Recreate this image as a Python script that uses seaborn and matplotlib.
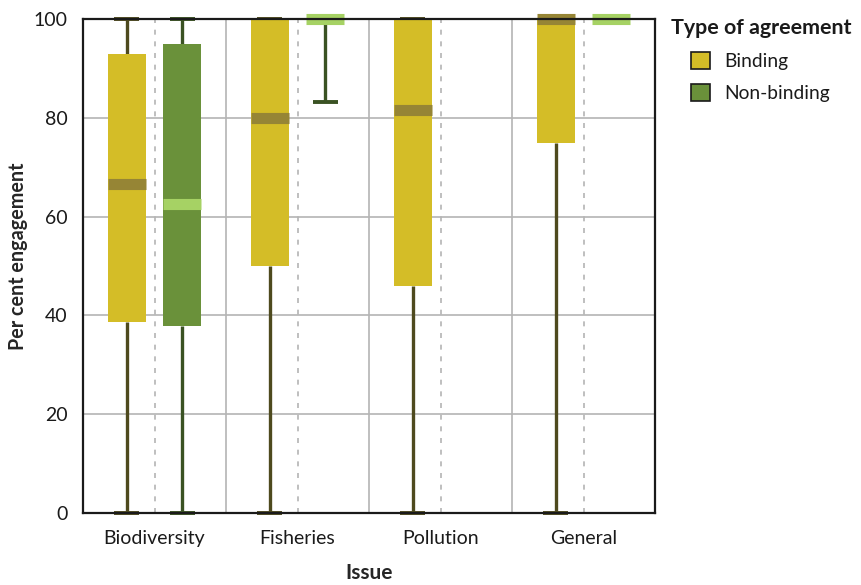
import numpy as np
import pandas as pd
import matplotlib
matplotlib.use("Agg")
import matplotlib.pyplot as plt
from matplotlib.patches import Patch
import seaborn as sns

# Issue categories and agreement types
issues = ["Biodiversity", "Fisheries", "Pollution", "General"]
agreement_types = ["Binding", "Non-binding"]

# Five-number summaries (min, Q1, median, Q3, max) of per cent engagement
binding_biodiversity = [0, 38.7, 66.7, 93.0, 100]
binding_fisheries = [0, 50.0, 80.0, 100, 100]
binding_pollution = [0, 46.0, 81.6, 100, 100]
binding_general = [0, 75.0, 100, 100, 100]

nonbinding_biodiversity = [0, 37.8, 62.5, 95.0, 100]
nonbinding_fisheries = [83.3, 100, 100, 100, 100]
nonbinding_general = [100, 100, 100, 100, 100]

groups = [
    ("Binding", "Biodiversity", binding_biodiversity),
    ("Binding", "Fisheries", binding_fisheries),
    ("Binding", "Pollution", binding_pollution),
    ("Binding", "General", binding_general),
    ("Non-binding", "Biodiversity", nonbinding_biodiversity),
    ("Non-binding", "Fisheries", nonbinding_fisheries),
    ("Non-binding", "General", nonbinding_general),
]
df = pd.DataFrame(
    [(t, issue, v) for t, issue, vals in groups for v in vals],
    columns=["Type", "Issue", "Engagement"],
)

box_colors = {"Binding": "#d4bd27", "Non-binding": "#6a913a"}
median_colors = {"Binding": "#968535", "Non-binding": "#a6d264"}
whisker_colors = {"Binding": "#4e4a1e", "Non-binding": "#3a5223"}

sns.set_theme(style="white")
plt.rcParams["font.family"] = ["Lato", "DejaVu Sans"]
plt.rcParams["text.color"] = "#1a1a1a"

fig = plt.figure(figsize=(8.62, 5.85), dpi=100)
ax = fig.add_axes([0.0963, 0.123, 0.6636, 0.8445])

for t in agreement_types:
    sub = df[df["Type"] == t]
    sns.boxplot(
        data=sub, x="Issue", y="Engagement", hue="Type",
        order=issues, hue_order=agreement_types, palette=box_colors,
        dodge=True, width=0.78, gap=0.32, whis=(0, 100), fliersize=0,
        saturation=1, linewidth=0, legend=False, ax=ax,
        capwidths=0.17,
        boxprops=dict(linewidth=0),
        medianprops=dict(color=median_colors[t], linewidth=8,
                         solid_capstyle="butt", clip_on=False),
        whiskerprops=dict(color=whisker_colors[t], linewidth=2.4,
                          solid_capstyle="butt", clip_on=False, zorder=1.9),
        capprops=dict(color=whisker_colors[t], linewidth=2.8,
                      solid_capstyle="butt", clip_on=False, zorder=1.9),
    )

ax.set_ylim(0, 100)
ax.set_xlim(-0.5, 3.5)
ax.set_yticks(np.arange(0, 101, 20))
ax.set_xticks(range(len(issues)))
ax.set_xticklabels(issues)
ax.set_xticks([0.5, 1.5, 2.5], minor=True)

ax.set_axisbelow(True)
ax.yaxis.grid(True, color="#b4b4b4", linewidth=1.2)
ax.xaxis.grid(True, which="minor", color="#b4b4b4", linewidth=1.2)
ax.xaxis.grid(True, which="major", color="#b4b4b4", linewidth=1.2,
              linestyle=(0, (3, 4)))
ax.tick_params(which="both", length=0, labelsize=14, colors="#1a1a1a")
ax.tick_params(axis="y", pad=11)
ax.tick_params(axis="x", pad=12)

for sp in ax.spines.values():
    sp.set_visible(True)
    sp.set_color("#1a1a1a")
    sp.set_linewidth(1.6)

ax.set_xlabel("Issue", fontsize=15, fontweight="bold")
ax.xaxis.set_label_coords(0.5, -0.102)
ax.set_ylabel("Per cent engagement", fontsize=14.2, fontweight="bold")
ax.yaxis.set_label_coords(-0.097, 0.52)

# Legend: bold heading above indented swatches
fig.text(0.779, 0.952, "Type of agreement", fontsize=15.4, fontweight="bold",
         ha="left", va="center")
handles = [Patch(facecolor=box_colors[t], edgecolor="#1a1a1a", linewidth=1.2,
                 label=t) for t in agreement_types]
leg = ax.legend(
    handles=handles, loc="upper left", bbox_to_anchor=(1.063, 0.933),
    frameon=False, fontsize=13.8,
    handlelength=1.0, handleheight=1.0, handletextpad=0.75,
    labelspacing=0.72, borderaxespad=0, borderpad=0,
)

fig.savefig("out.png", dpi=100)
